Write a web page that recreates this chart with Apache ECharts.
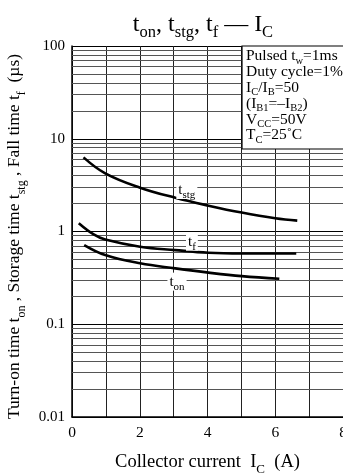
<!DOCTYPE html>
<html>
<head>
<meta charset="utf-8">
<script src="https://cdn.jsdelivr.net/npm/echarts@6/dist/echarts.min.js"></script>
<style>
  html, body { margin: 0; padding: 0; background: #fff; overflow: hidden; }
  #chart { width: 343px; height: 473px; }
</style>
</head>
<body>
<div id="chart"></div>
<script>
// Collector current I_C (A)
const icStg = [0.34, 0.98, 2.01, 3.05, 4.03, 5.01, 6.0, 6.65];
const icF   = [0.2, 0.64, 0.98, 2.01, 3.05, 4.03, 5.01, 6.0, 6.62];
const icOn  = [0.36, 0.98, 2.01, 3.05, 4.03, 5.01, 6.12];

// Switching times (µs)
const tStg = [6.3, 4.24, 2.97, 2.31, 1.90, 1.60, 1.39, 1.31];
const tF   = [1.23, 0.93, 0.82, 0.686, 0.63, 0.59, 0.58, 0.58, 0.58];
const tOn  = [0.715, 0.558, 0.454, 0.40, 0.36, 0.33, 0.31];

// Curve tags: [I_C, time, rich-text tag]
const curveTags = [
  [3.39, 2.8,   '{t|t}{s|stg}'],
  [3.54, 0.776, '{t|t}{s|f}'],
  [3.10, 0.288, '{t|t}{s|on}']
];

// Axis ticks
const xTicks = [0, 2, 4, 6, 8];
const yDecades = [0.01, 0.1, 1, 10, 100];
const yMinorSteps = [2, 3, 4, 5, 6, 7, 8, 9];

const serif = 'Liberation Serif, Times New Roman, serif';

const minorLines = [];
for (let d = 0; d < yDecades.length - 1; d++) {
  for (const m of yMinorSteps) {
    minorLines.push({ yAxis: +(yDecades[d] * m).toPrecision(6) });
  }
}

const pair = (xs, ys) => xs.map((x, i) => [x, ys[i]]);

function richPair(big, small, lh, drop) {
  const base = { fontFamily: serif, fontWeight: 'normal', color: '#000', verticalAlign: 'bottom', lineHeight: lh, textBorderWidth: 0, textBorderColor: 'transparent' };
  return {
    t: Object.assign({}, base, { fontSize: big }),
    s: Object.assign({}, base, { fontSize: small, padding: [0, 0, -drop, 0] })
  };
}

const curveStyle = { color: '#000', width: 2.6 };

const chart = echarts.init(document.getElementById('chart'), null, { renderer: 'canvas' });

chart.setOption({
  animation: false,
  backgroundColor: '#fff',
  title: {
    text: '{t|t}{s|on}{t|, t}{s|stg}{t|, t}{s|f}{t| — I}{s|C}',
    left: 198,
    textAlign: 'center',
    top: 5,
    textStyle: { fontWeight: 'normal', rich: richPair(24, 16.5, 27, 4) }
  },
  grid: { left: 72, top: 46, right: 0, bottom: 56, containLabel: false, outerBoundsMode: 'none' },
  xAxis: {
    type: 'value',
    min: 0,
    max: 8,
    interval: 1,
    axisLine: { show: true, lineStyle: { color: '#000', width: 1.5 } },
    axisTick: { show: false },
    axisLabel: {
      margin: 8,
      fontFamily: serif,
      fontWeight: 'normal',
      fontSize: 15.5,
      color: '#000',
      hideOverlap: false,
      formatter: v => (xTicks.indexOf(v) >= 0 ? String(v) : '')
    },
    splitLine: { show: true, lineStyle: { color: '#222', width: 1 } },
    name: '{t|Collector current  I}{s|C}{t|  (A)}',
    nameLocation: 'middle',
    nameGap: 34,
    nameTextStyle: { rich: richPair(18.5, 13, 21, 4) }
  },
  yAxis: {
    type: 'log',
    logBase: 10,
    min: 0.01,
    max: 100,
    interval: 1,
    axisLine: { show: true, lineStyle: { color: '#000', width: 1.5 } },
    axisTick: { show: false },
    axisLabel: {
      margin: 7,
      fontFamily: serif,
      fontWeight: 'normal',
      fontSize: 15,
      color: '#000',
      formatter: v => {
        const d = yDecades.find(t => Math.abs(t - v) / t < 1e-6);
        return d !== undefined ? String(d) : '';
      }
    },
    splitLine: { show: true, lineStyle: { color: '#000', width: 1 } },
    name: '{t|Turn-on time t}{s|on}{t| , Storage time t}{s|stg}{t| , Fall time t}{s|f}{t|  (µs)}',
    nameLocation: 'middle',
    nameGap: 42,
    nameTextStyle: { padding: [0, 10, 0, 0], rich: richPair(17.5, 12, 20, 4) }
  },
  series: [
    {
      name: 'gridMinor',
      type: 'line',
      data: [],
      silent: true,
      markLine: {
        silent: true,
        symbol: 'none',
        label: { show: false },
        lineStyle: { type: 'solid', color: '#555', width: 1 },
        data: minorLines
      }
    },
    {
      name: 'tstg',
      type: 'line',
      smooth: 0.4,
      showSymbol: false,
      symbol: 'none',
      lineStyle: curveStyle,
      data: pair(icStg, tStg),
      z: 5
    },
    {
      name: 'tf',
      type: 'line',
      smooth: 0.4,
      showSymbol: false,
      symbol: 'none',
      lineStyle: curveStyle,
      data: pair(icF, tF),
      z: 5
    },
    {
      name: 'ton',
      type: 'line',
      smooth: 0.4,
      showSymbol: false,
      symbol: 'none',
      lineStyle: curveStyle,
      data: pair(icOn, tOn),
      z: 5
    },
    {
      name: 'tags',
      type: 'scatter',
      symbol: 'rect',
      symbolSize: 1,
      itemStyle: { color: '#fff', opacity: 1 },
      z: 6,
      data: curveTags.map(t => ({
        value: [t[0], t[1]],
        label: {
          show: true,
          position: 'inside',
          formatter: t[2],
          color: '#000',
          textBorderWidth: 0,
          textBorderColor: 'transparent',
          backgroundColor: '#fff',
          padding: [1, 2, 1, 2],
          rich: richPair(15, 11, 16, 3)
        }
      }))
    }
  ],
  graphic: [
    {
      type: 'rect',
      z: 100,
      shape: { x: 242, y: 46, width: 110, height: 103 },
      style: { fill: '#fff', stroke: '#000', lineWidth: 1.2 }
    },
    {
      type: 'text',
      z: 101,
      x: 246,
      y: 48.5,
      style: {
        text: [
          '{t|Pulsed t}{s|w}{t|=1ms}',
          '{t|Duty cycle=1%}',
          '{t|I}{s|C}{t|/I}{s|B}{t|=50}',
          '{t|(I}{s|B1}{t|=–I}{s|B2}{t|)}',
          '{t|V}{s|CC}{t|=50V}',
          '{t|T}{s|C}{t|=25˚C}'
        ].join('\n'),
        fill: '#000',
        rich: {
          t: { fontFamily: serif, fontSize: 15.5, fill: '#000', verticalAlign: 'bottom', lineHeight: 15.8 },
          s: { fontFamily: serif, fontSize: 10.5, fill: '#000', verticalAlign: 'bottom', lineHeight: 15.8, padding: [0, 0, -2, 0] }
        }
      }
    }
  ]
});
</script>
</body>
</html>
